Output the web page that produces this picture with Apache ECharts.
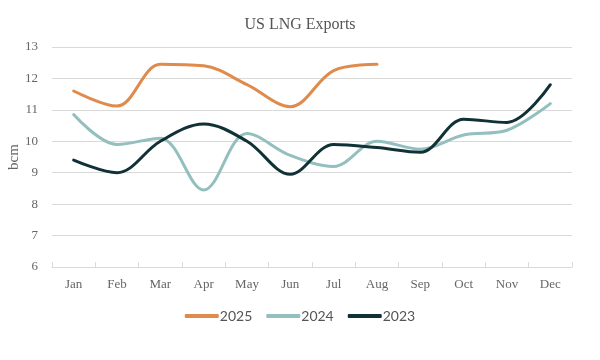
<!DOCTYPE html>
<html><head><meta charset="utf-8">
<script src="https://cdn.jsdelivr.net/npm/echarts@6/dist/echarts.min.js"></script>
<style>html,body{margin:0;padding:0;background:#fff}#c{width:600px;height:360px}</style>
</head><body><div id="c"></div>
<script>
const categories = ['Jan','Feb','Mar','Apr','May','Jun','Jul','Aug','Sep','Oct','Nov','Dec'];
const s2025 = [11.6, 11.12, 12.45, 12.4, 11.8, 11.1, 12.25, 12.45];
const s2024 = [10.85, 9.9, 10.1, 8.45, 10.25, 9.55, 9.2, 10.0, 9.75, 10.2, 10.35, 11.2];
const s2023 = [9.4, 9.0, 10.0, 10.55, 10.0, 8.95, 9.9, 9.8, 9.65, 10.7, 10.6, 11.8];
const yTicks = [6, 7, 8, 9, 10, 11, 12, 13];

const chart = echarts.init(document.getElementById('c'));
const serif = 'Liberation Serif';
const mk = (name, data, color) => ({
  name, type: 'line', data, smooth: 0.35, showSymbol: false, symbol: 'none',
  lineStyle: { color, width: 3, cap: 'round' }, itemStyle: { color }
});
chart.setOption({
  animation: false,
  title: { text: 'US LNG Exports', left: 'center', top: 12,
    textStyle: { fontFamily: serif, fontSize: 16, fontWeight: 'normal', color: '#555' } },
  legend: { bottom: 32, left: 'center', itemWidth: 34, itemHeight: 4, itemGap: 14,
    icon: 'roundRect',
    textStyle: { fontFamily: 'Lato', fontSize: 14, color: '#555', padding: [0, 0, 0, -4] },
    data: ['2025', '2024', '2023'] },
  grid: { left: 52, right: 28, top: 47, bottom: 93, containLabel: false, outerBoundsMode: 'none' },
  xAxis: { type: 'category', data: categories, boundaryGap: true,
    axisLine: { lineStyle: { color: '#d9d9d9', width: 1 } },
    axisTick: { show: true, inside: true, length: 5, lineStyle: { color: '#d9d9d9' } },
    axisLabel: { fontFamily: serif, fontSize: 13, color: '#666', margin: 11 } },
  yAxis: { type: 'value', min: yTicks[0], max: yTicks[yTicks.length - 1], interval: 1,
    name: 'bcm', nameLocation: 'middle', nameGap: 30, nameRotate: 90, nameMoveOverlap: false,
    nameTextStyle: { fontFamily: serif, fontSize: 15, color: '#666' },
    axisLine: { show: false }, axisTick: { show: false },
    axisLabel: { fontFamily: serif, fontSize: 13, color: '#666', margin: 14 },
    splitLine: { lineStyle: { color: '#d9d9d9', width: 1 } } },
  series: [
    mk('2025', s2025, '#e08a4c'),
    mk('2024', s2024, '#94bfbf'),
    mk('2023', s2023, '#103236')
  ]
});
</script></body></html>
